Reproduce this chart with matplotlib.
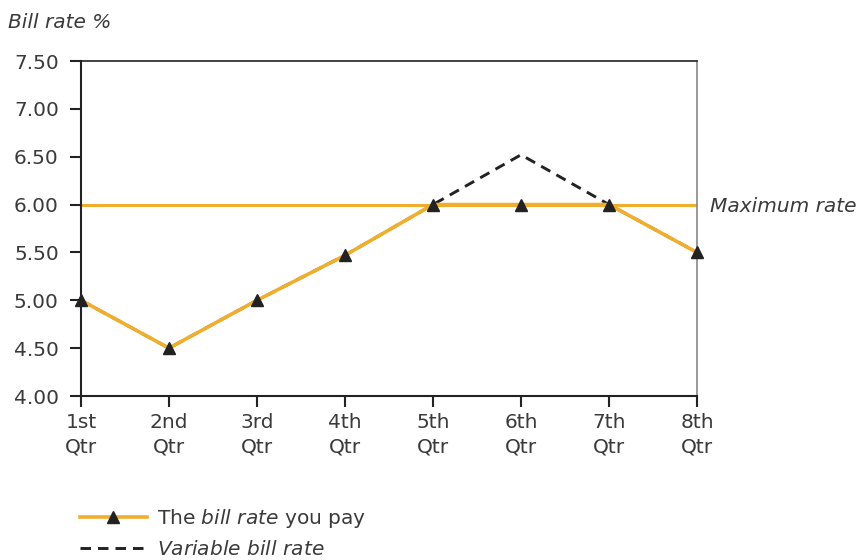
import matplotlib
matplotlib.use("Agg")
import matplotlib.pyplot as plt
from matplotlib.lines import Line2D

quarters = ["1st\nQtr", "2nd\nQtr", "3rd\nQtr", "4th\nQtr", "5th\nQtr", "6th\nQtr", "7th\nQtr", "8th\nQtr"]
bill_rate_paid = [5.00, 4.50, 5.00, 5.47, 6.00, 6.00, 6.00, 5.50]
variable_rate = [5.00, 4.50, 5.00, 5.47, 6.00, 6.52, 6.00, 5.50]
maximum_rate = 6.00
yticks = [4.00, 4.50, 5.00, 5.50, 6.00, 6.50, 7.00, 7.50]

plt.rcParams['font.family'] = ['DejaVu Sans']
ORANGE = "#EFAE2E"
DARK = "#222222"
TXT = "#3a3a3a"
FS = 14.5

fig = plt.figure(figsize=(8.6, 5.6), dpi=100)
ax = fig.add_axes([81/860, 1-396/560, (697-81)/860, (396-61)/560])

x = list(range(len(quarters)))
DASH = (0, (3.6, 2.4))
ax.axhline(maximum_rate, color=ORANGE, lw=2.2, zorder=2)
ax.plot(x, variable_rate, color=DARK, lw=2.1, ls=DASH, zorder=3)
ax.plot(x, bill_rate_paid, color=ORANGE, lw=2.6, zorder=4)
ax.plot(x, bill_rate_paid, ls='none', marker='^', ms=9, color=DARK, zorder=5, clip_on=False)

ax.set_xlim(0, 7)
ax.set_ylim(4.0, 7.5)
ax.set_yticks(yticks)
ax.set_yticklabels([f"{v:.2f}" for v in yticks])
ax.set_xticks(x)
ax.set_xticklabels(quarters, linespacing=1.4)
ax.tick_params(axis='both', direction='out', length=8, width=1.5, color=DARK,
               labelsize=FS, labelcolor=TXT)
ax.tick_params(axis='x', pad=4)
ax.tick_params(axis='y', pad=8)
for s in ['left', 'bottom', 'top']:
    ax.spines[s].set_color(DARK)
    ax.spines[s].set_linewidth(1.5)
ax.spines['top'].set_linewidth(1.2)
ax.spines['right'].set_color('#888888')
ax.spines['right'].set_linewidth(1.2)

fig.text(8/860, 1-22/560, "Bill rate %", fontsize=FS, style='italic', color=TXT, va='center', ha='left')
fig.text(710/860, 1-206/560, "Maximum rate", fontsize=FS, style='italic', color=TXT, va='center', ha='left')

h1 = Line2D([], [], color=ORANGE, lw=2.6, marker='^', ms=9, markerfacecolor=DARK, markeredgecolor=DARK)
h2 = Line2D([], [], color=DARK, lw=2.1, ls=DASH)
fig.legend([h1, h2], ["The $\\it{bill\\ rate}$ you pay", "$\\it{Variable\\ bill\\ rate}$"],
           loc='center left', bbox_to_anchor=(70/860, 1-533/560), frameon=False, fontsize=FS,
           handlelength=3.3, handletextpad=0.5, labelspacing=0.5, labelcolor=TXT,
           borderpad=0)

fig.savefig("out.png", dpi=100)
